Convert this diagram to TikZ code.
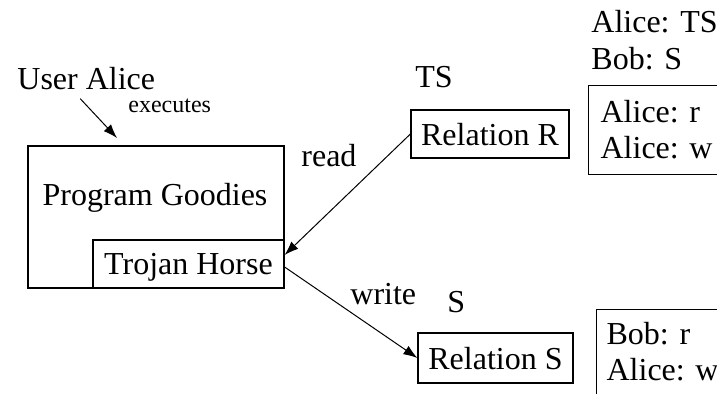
\documentclass[tikz,border=0pt]{standalone}
\usepackage{fontspec}
\setmainfont{Liberation Serif}
\usetikzlibrary{arrows.meta}

\begin{document}
\begin{tikzpicture}[x=0.5pt, y=-0.5pt,
        font=\fontsize{16}{19}\selectfont,
        kasten/.style={draw, line width=0.6pt, inner sep=0pt, text depth=0pt},
        marke/.style={anchor=base west, inner sep=0pt},
        liste/.style={draw, line width=0.6pt, anchor=north west, align=left,
            text width=66pt, inner xsep=6pt, font=\fontsize{16}{18}\selectfont\frenchspacing},
        pfeil/.style={-{Latex[length=7pt, width=5pt]}, line width=0.5pt}]
    \useasboundingbox (0, 0) rectangle (717, 394);
    \clip (0, 0) rectangle (717, 394);

    % Benutzer
    \node[marke] (user) at (17, 90) {User Alice};
    \node[marke, font=\fontsize{12}{14}\selectfont] (exec) at (128, 113) {executes};

    % Programm mit Trojaner
    \node[kasten, minimum width=128pt, minimum height=71pt] (prog) at (156, 217) {};
    \node[anchor=base, inner sep=0pt] (progtext) at (155, 206) {Program Goodies};
    \node[kasten, fill=white, anchor=south east, minimum width=95.5pt, minimum height=24pt]
        (trojan) at (prog.south east) {Trojan Horse};

    % Aufruf
    \coordinate (ziel) at (117, 138);
    \draw[pfeil] ([xshift=-3pt, yshift=-4pt]user.south) -- (ziel);

    % Relationen
    \node[kasten, minimum width=79pt, minimum height=24pt] (relR) at (490, 134) {Relation R};
    \node[kasten, minimum width=77.5pt, minimum height=25pt] (relS) at (495.5, 358) {Relation S};

    % Stufen
    \node[marke] (levelR) at (415, 88) {TS};
    \node[marke] (levelS) at (447, 313) {S};
    \node[marke] (clearA) at (591, 33) {Alice: TS};
    \node[marke] (clearB) at (591, 70) {Bob: S};

    % Zugriffslisten
    \node[liste, inner ysep=7.6pt] (aclR) at (588, 85) {Alice: r\\Alice: w};
    \node[liste, inner ysep=6.2pt, inner xsep=5pt, text depth=40pt] (aclS) at (596, 309) {Bob: r\\Alice: w};

    % Lesen und Schreiben
    \draw[pfeil] (relR.west) -- ([yshift=4.5pt]trojan.east);
    \node[marke] (read) at (301, 167) {read};
    \draw[pfeil] ([yshift=-1.5pt]trojan.east) -- (relS.west);
    \node[marke] (write) at (350, 305) {write};
\end{tikzpicture}
\end{document}
